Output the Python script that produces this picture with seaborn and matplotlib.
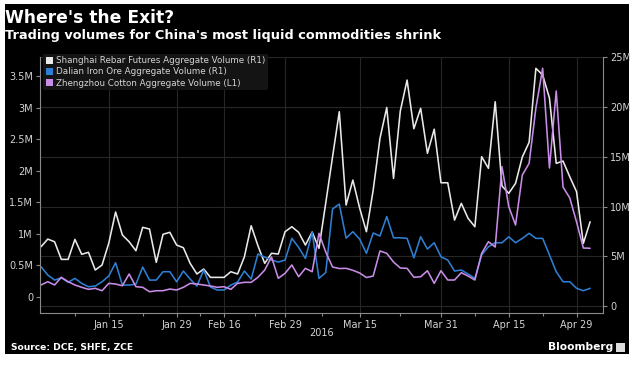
import numpy as np
import pandas as pd
import matplotlib
matplotlib.use("Agg")
import matplotlib.pyplot as plt
import seaborn as sns
from matplotlib.patches import Rectangle, Patch
from matplotlib.ticker import FuncFormatter, FixedLocator

# ---- data (millions of contracts), one value per trading day, Dec 31 2015 .. May 4 2016
rebar = [5.96, 6.73, 6.46, 4.69, 4.69, 6.70, 5.20, 5.40, 3.62, 4.12,
         6.33, 9.45, 7.14, 6.46, 5.56, 7.91, 7.74, 4.39, 7.21, 7.41,
         6.13, 5.86, 4.29, 3.22, 3.72, 2.88, 2.88, 2.88, 3.45, 3.22,
         4.95, 8.07, 6.06, 4.29, 5.30, 5.23, 7.47, 7.97, 7.41, 6.13,
         7.44, 5.80, 10.35, 14.97, 19.53, 10.15, 12.66, 9.85, 7.47, 11.66,
         16.85, 19.95, 12.83, 19.60, 22.71, 17.82, 19.87, 15.35, 17.77, 12.39,
         12.39, 8.64, 10.32, 8.81, 7.97, 15.01, 13.84, 20.53, 12.06, 11.33,
         12.33, 14.99, 16.45, 23.89, 23.22, 20.90, 14.34, 14.57, 12.99, 11.49,
         6.30, 8.47]
iron_ore = [3.95, 3.12, 2.61, 2.84, 2.38, 2.78, 2.28, 1.94, 2.01, 2.44,
            3.02, 4.35, 2.11, 2.11, 2.20, 3.92, 2.61, 2.61, 3.45, 3.45,
            2.44, 3.52, 2.71, 2.01, 3.62, 1.91, 1.61, 1.61, 2.11, 2.41,
            3.52, 2.71, 5.23, 4.92, 4.62, 4.42, 4.62, 6.80, 5.90, 4.79,
            7.41, 2.78, 3.37, 9.75, 10.25, 6.83, 7.47, 6.73, 5.30, 7.34,
            7.04, 9.00, 6.86, 6.86, 6.80, 4.85, 6.96, 5.73, 6.36, 4.95,
            4.62, 3.52, 3.62, 3.22, 2.78, 5.13, 5.96, 6.36, 6.36, 6.96,
            6.36, 6.80, 7.31, 6.80, 6.80, 5.13, 3.45, 2.44, 2.44, 1.78,
            1.54, 1.78]
cotton = [0.186, 0.238, 0.186, 0.308, 0.238, 0.186, 0.149, 0.117, 0.133, 0.095,
          0.212, 0.201, 0.174, 0.360, 0.159, 0.149, 0.079, 0.095, 0.095, 0.122,
          0.106, 0.149, 0.212, 0.201, 0.186, 0.170, 0.149, 0.159, 0.117, 0.212,
          0.228, 0.228, 0.308, 0.423, 0.630, 0.292, 0.371, 0.503, 0.317, 0.450,
          0.396, 1.005, 0.709, 0.471, 0.447, 0.450, 0.419, 0.376, 0.304, 0.328,
          0.725, 0.688, 0.550, 0.455, 0.450, 0.308, 0.317, 0.412, 0.212, 0.412,
          0.265, 0.265, 0.381, 0.328, 0.265, 0.688, 0.872, 0.788, 2.062, 1.427,
          1.137, 1.930, 2.115, 2.992, 3.622, 2.041, 3.262, 1.740, 1.565, 1.185,
          0.772, 0.768]
tick_pos = [10, 20, 27, 36, 47, 59, 69, 79]
tick_labels = ["Jan 15", "Jan 29", "Feb 16", "Feb 29", "Mar 15", "Mar 31", "Apr 15", "Apr 29"]
minor_pos = [5, 15, 23.5, 31.5, 41.5, 53, 64, 74]
left_ticks = [0, 0.5, 1, 1.5, 2, 2.5, 3, 3.5]
right_ticks = [0, 5, 10, 15, 20, 25]
series_names = ["Shanghai Rebar Futures Aggregate Volume (R1)",
                "Dalian Iron Ore Aggregate Volume (R1)",
                "Zhengzhou Cotton Aggregate Volume (L1)"]

WHITE = "#e9e9e9"
BLUE = "#2e7fd3"
PURPLE = "#c98ce8"
TXT = "#d4d4d4"
SPINE = "#8a8a8a"
GRID = "#262626"

df = pd.DataFrame({"day": np.arange(len(rebar)), "rebar": rebar,
                   "iron": iron_ore, "cotton": cotton})

sns.set_theme(style="dark")
plt.rcParams["font.family"] = ["DejaVu Sans"]

fig = plt.figure(figsize=(6.4, 3.7), dpi=100, facecolor="white")
fig.add_artist(Rectangle((5 / 640, 1 - 354 / 370), 624 / 640, 350 / 370,
                         transform=fig.transFigure, facecolor="black",
                         edgecolor="none", zorder=-5))

ax = fig.add_axes([40 / 640, 1 - 313.3 / 370, 563 / 640, (313.3 - 57) / 370])
ax.set_facecolor("black")
axl = ax.twinx()
axl.set_facecolor("none")

# right axis series
sns.lineplot(data=df, x="day", y="rebar", ax=ax, color=WHITE, lw=1.15)
sns.lineplot(data=df, x="day", y="iron", ax=ax, color=BLUE, lw=1.15)
# left axis series
sns.lineplot(data=df, x="day", y="cotton", ax=axl, color=PURPLE, lw=1.15)

ax.set_xlim(-0.15, 82.9)
ax.set_ylim(-0.73, 25.03)
axl.set_ylim(-0.263, 3.801)

# right axis (R1) on ax
ax.yaxis.tick_right()
ax.yaxis.set_label_position("right")
ax.set_yticks(right_ticks)
ax.yaxis.set_major_formatter(FuncFormatter(lambda v, p: "0" if v == 0 else f"{v:g}M"))
ax.set_xticks(tick_pos)
ax.set_xticklabels(tick_labels)
ax.xaxis.set_minor_locator(FixedLocator(minor_pos))
ax.tick_params(axis="x", which="major", colors=SPINE, labelcolor=TXT, labelsize=7,
               length=3, width=0.8, direction="out", pad=2, bottom=True)
ax.tick_params(axis="x", which="minor", colors=SPINE, length=2, width=0.8,
               direction="out", bottom=True)
ax.tick_params(axis="y", colors=SPINE, labelcolor=TXT, labelsize=7, length=3,
               width=0.8, direction="out", pad=2, right=True, left=False)
ax.grid(True, which="major", color=GRID, lw=0.8)
ax.set_xlabel("")
ax.set_ylabel("")

# left axis (L1) on axl
axl.yaxis.tick_left()
axl.yaxis.set_label_position("left")
axl.set_yticks(left_ticks)
axl.yaxis.set_major_formatter(FuncFormatter(lambda v, p: "0" if v == 0 else f"{v:g}M"))
axl.tick_params(axis="y", colors=SPINE, labelcolor=TXT, labelsize=7, length=3,
                width=0.8, direction="out", pad=2, left=True, right=False)
axl.grid(False)
axl.set_ylabel("")

for a in (ax, axl):
    for s in a.spines.values():
        s.set_visible(False)
ax.spines["bottom"].set_visible(True)
ax.spines["bottom"].set_color(SPINE)
ax.spines["bottom"].set_linewidth(0.8)
ax.spines["right"].set_visible(True)
ax.spines["right"].set_color(SPINE)
ax.spines["right"].set_linewidth(0.8)
axl.spines["left"].set_visible(True)
axl.spines["left"].set_color(SPINE)
axl.spines["left"].set_linewidth(0.8)

handles = [Patch(facecolor=c, edgecolor="none") for c in (WHITE, BLUE, PURPLE)]
leg = axl.legend(handles, series_names, loc="upper left", bbox_to_anchor=(0.003, 1.02),
                 fontsize=6.3, frameon=True, facecolor="#141414", edgecolor="none",
                 framealpha=1, handlelength=0.8, handleheight=0.8, handletextpad=0.3,
                 labelspacing=0.25, borderpad=0.3, borderaxespad=0.2)
for t in leg.get_texts():
    t.set_color(TXT)

# texts
fig.text(5 / 640, 1 - 18 / 370, "Where's the Exit?", color="white", fontsize=12.3,
         fontweight="bold", ha="left", va="center")
fig.text(5 / 640, 1 - 35 / 370, "Trading volumes for China's most liquid commodities shrink",
         color="white", fontsize=9.3, fontweight="bold", ha="left", va="center")
fig.text(322 / 640, 1 - 333 / 370, "2016", color=TXT, fontsize=7, ha="center", va="center")
fig.text(11 / 640, 1 - 347.5 / 370, "Source: DCE, SHFE, ZCE", color="white",
         fontsize=6.6, fontweight="bold", ha="left", va="center")
fig.text(613 / 640, 1 - 347 / 370, "Bloomberg", color="white", fontsize=7.7,
         fontweight="bold", ha="right", va="center")
fig.add_artist(Rectangle((616 / 640, 1 - 352 / 370), 9 / 640, 9 / 370,
                         transform=fig.transFigure, facecolor="#dddddd",
                         edgecolor="none"))

fig.savefig("out.png", dpi=100, facecolor="white")
